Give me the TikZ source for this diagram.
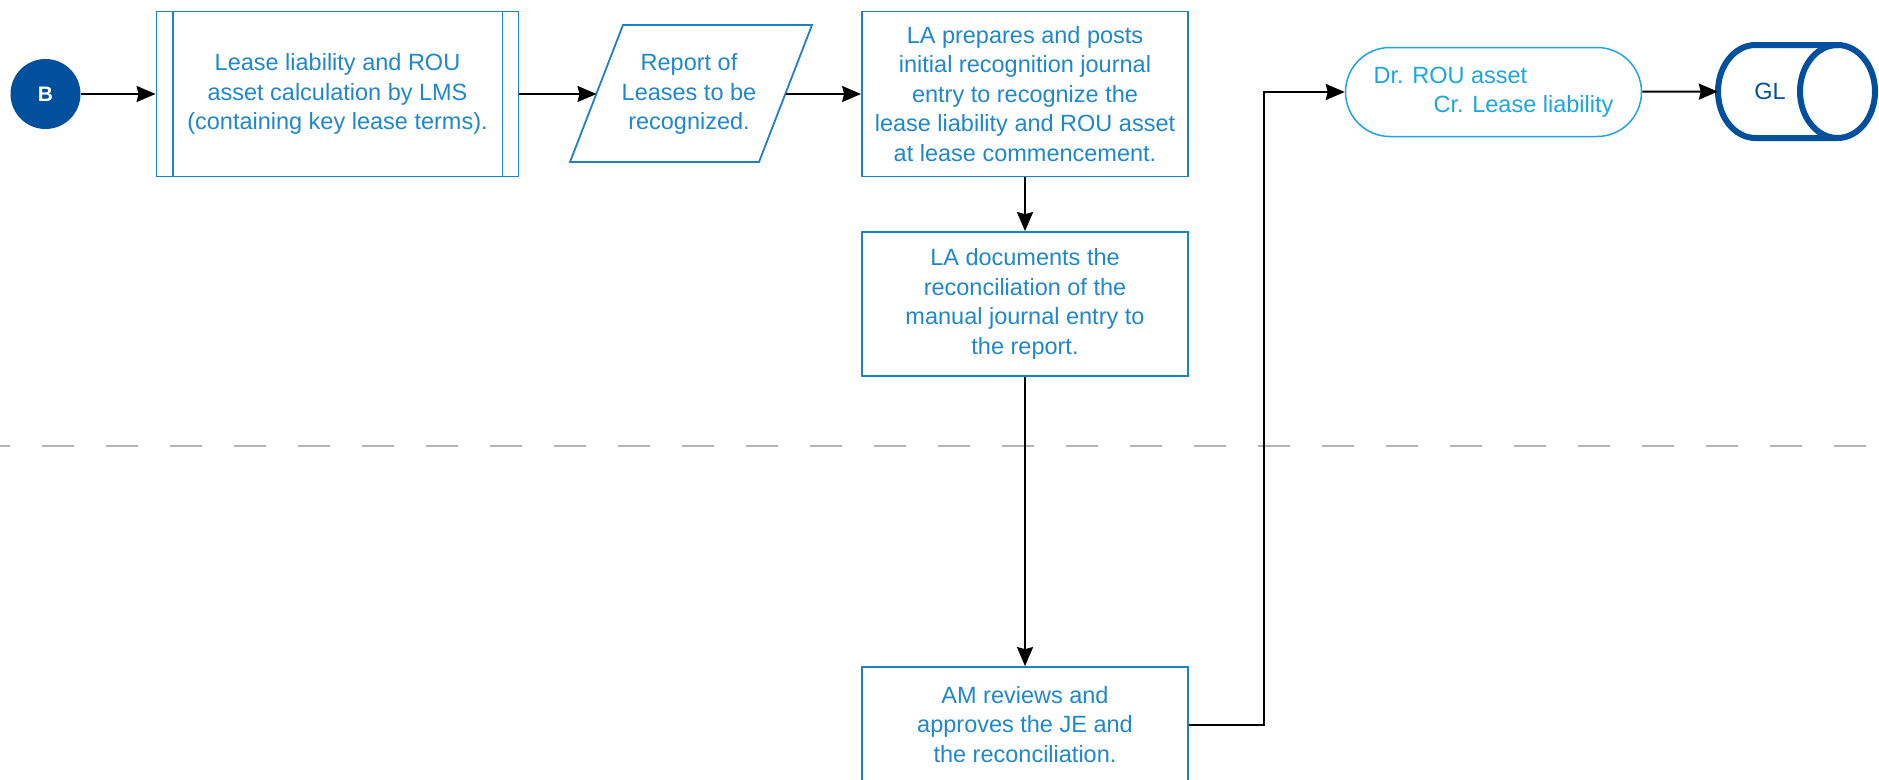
\documentclass[tikz,border=0pt]{standalone}
\usepackage{fontspec}
\setmainfont{Liberation Sans}
\usetikzlibrary{arrows.meta,shapes.geometric,shapes.misc,calc}
\definecolor{boxblue}{HTML}{1E80C6}
\definecolor{txtblue}{HTML}{1F87CA}
\definecolor{lightblue}{HTML}{1CA5E0}
\definecolor{darkblue}{HTML}{00509D}
\definecolor{dashgray}{HTML}{B5B5B5}
\begin{document}
\begin{tikzpicture}[x=1pt,y=-1pt,
  every node/.style={font=\fontsize{23.5}{29.5}\selectfont, text=txtblue, align=center},
  proc/.style={draw=boxblue, line width=1.8pt, rectangle, minimum width=326pt, inner sep=0pt},
  outline/.style={draw=boxblue, line width=1.8pt},
  conn/.style={black, line width=2pt, -{Stealth[length=19pt,width=16pt,inset=2pt]}}]
\useasboundingbox (0,0) rectangle (1879,779);
% lane separator
\draw[dashgray, line width=2pt, dash pattern=on 32pt off 32pt, dash phase=22pt] (0,446) -- (1879,446);
% nodes
\node[circle, fill=darkblue, minimum size=70pt, inner sep=0pt, text=white, font=\fontsize{21}{21}\selectfont\bfseries] (B) at (45.5,94) {B};
\node[proc, minimum width=362pt, minimum height=165pt] (box1) at (337.5,94) {Lease liability and ROU\\asset calculation by LMS\\(containing key lease terms).};
\draw[outline] ($(box1.north west)+(17,0)$) -- ($(box1.south west)+(17,0)$);
\draw[outline] ($(box1.north east)+(-17,0)$) -- ($(box1.south east)+(-17,0)$);
% report (parallelogram)
\node[inner sep=0pt] (rep) at (689,94) {Report of\\Leases to be\\recognized.};
\draw[outline, line join=miter] (623,25) -- (812,25) -- (759,162) -- (570,162) -- cycle;
\coordinate (repW) at (596.5,94);
\coordinate (repE) at (785.5,94);
\node[proc, minimum height=165pt] (box3) at (1025,94) {LA prepares and posts\\initial recognition journal\\entry to recognize the\\lease liability and ROU asset\\at lease commencement.};
\node[proc, minimum height=144pt] (box4) at (1025,304) {LA documents the\\reconciliation of the\\manual journal entry to\\the report.};
\node[proc, minimum height=115pt] (box5) at (1025,724.5) {AM reviews and\\approves the JE and\\the reconciliation.};
\node[draw=lightblue, line width=1.5pt, rounded rectangle, minimum width=296pt, minimum height=89pt, inner sep=0pt, text=lightblue, align=left] (pill) at (1493.5,92) {Dr. ROU asset\\\hspace*{60pt}Cr. Lease liability};
% GL storage
\node[minimum width=104pt, minimum height=93pt, inner sep=0pt, text=darkblue] (gl) at (1770,91.5) {GL};
\draw[darkblue, line width=6pt] (1837.5,45) -- (1755.5,45) arc[start angle=270, end angle=90, x radius=37.5, y radius=46.5] -- (1837.5,138);
\draw[darkblue, line width=6pt] (1837.5,91.5) ellipse[x radius=37.5, y radius=46.5];
% connectors
\draw[conn] (B) -- (box1);
\draw[conn] (box1.east) -- (repW);
\draw[conn] (repE) -- (box3.west);
\draw[conn] (box3) -- (box4);
\draw[conn] (box4) -- (box5);
\draw[conn] (box5.east) -- ++(75,0) |- (pill.west);
\draw[conn] (pill) -- (gl);
\end{tikzpicture}
\end{document}
